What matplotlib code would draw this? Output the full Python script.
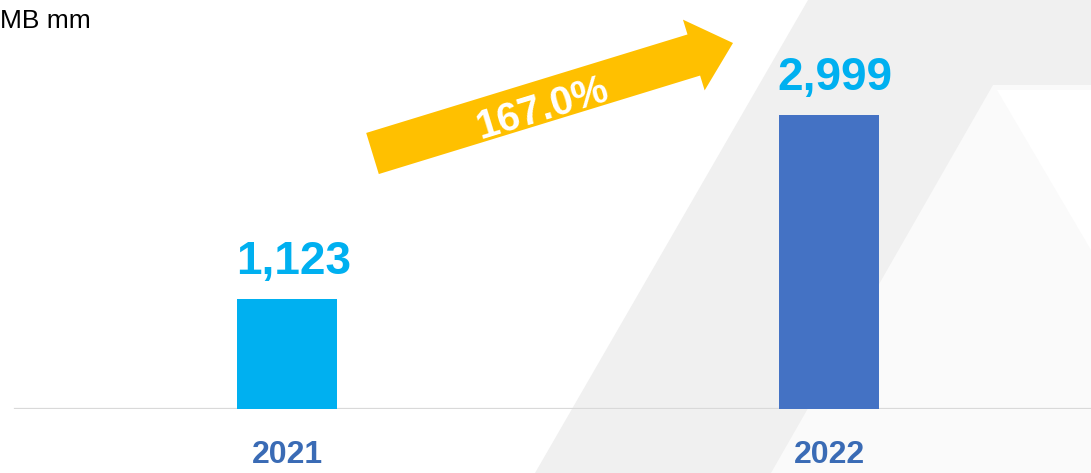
import matplotlib.pyplot as plt
from matplotlib.patches import Polygon, FancyArrow

plt.rcParams['font.family'] = ['Liberation Sans', 'DejaVu Sans']

years = ['2021', '2022']
values = [1123, 2999]
bar_colors = ['#00B0F0', '#4472C4']
growth = '167.0%'
unit = 'MB mm'

W, H = 1091, 473
fig = plt.figure(figsize=(W / 100, H / 100), dpi=100)

# background shapes (pixel coords, y down)
bg = fig.add_axes([0, 0, 1, 1], zorder=0)
bg.set_xlim(0, W)
bg.set_ylim(H, 0)
bg.axis('off')
bg.add_patch(Polygon([(808, 0), (W, 0), (W, H), (535, H)], closed=True,
                     facecolor='#F0F0F0', edgecolor='none'))
bg.add_patch(Polygon([(993, 85), (W, 85), (W, H), (771, H)], closed=True,
                     facecolor='#FAFAFA', edgecolor='none'))
bg.add_patch(Polygon([(997, 90), (W, 90), (W, 250)], closed=True,
                     facecolor='#FFFFFF', edgecolor='none'))

# main chart
base = 64.5 / H
ax = fig.add_axes([0, base, 1, 1 - base], zorder=1)
ax.patch.set_alpha(0)
x = range(len(years))
ax.bar(x, values, width=0.1845, color=bar_colors, zorder=3)
ax.set_xlim(-0.5295, 1.4834)
ax.set_ylim(0, 4181)
for s in ax.spines.values():
    s.set_visible(False)
ax.axhline(0, xmin=15 / W, xmax=1, color='#D9D9D9', lw=1.6, zorder=2)
ax.set_yticks([])
ax.set_xticks(list(x))
ax.set_xticklabels(years, fontsize=23, fontweight='bold', color='#3A6BB5')
ax.tick_params(axis='x', length=0, pad=23)

for xi, v in zip(x, values):
    ax.annotate(f'{v:,}', (xi, v), xytext=(4.5, 11), textcoords='offset points',
                ha='center', va='bottom', fontsize=33, fontweight='bold',
                color='#00B0F0')

# growth arrow
top = fig.add_axes([0, 0, 1, 1], zorder=2)
top.set_xlim(0, W)
top.set_ylim(H, 0)
top.axis('off')
top.patch.set_alpha(0)
top.add_patch(FancyArrow(372.5, 153.5, 360.5, -110.5, width=43, head_width=74,
                         head_length=41, length_includes_head=True,
                         facecolor='#FFC000', edgecolor='none'))
top.text(543, 109, growth, rotation=17, rotation_mode='anchor', ha='center',
         va='center', fontsize=29, fontweight='bold', color='white')

fig.text(0, (H - 28) / H, unit, fontsize=19, color='#000000',
         ha='left', va='baseline')

fig.savefig('out.png', dpi=100)
